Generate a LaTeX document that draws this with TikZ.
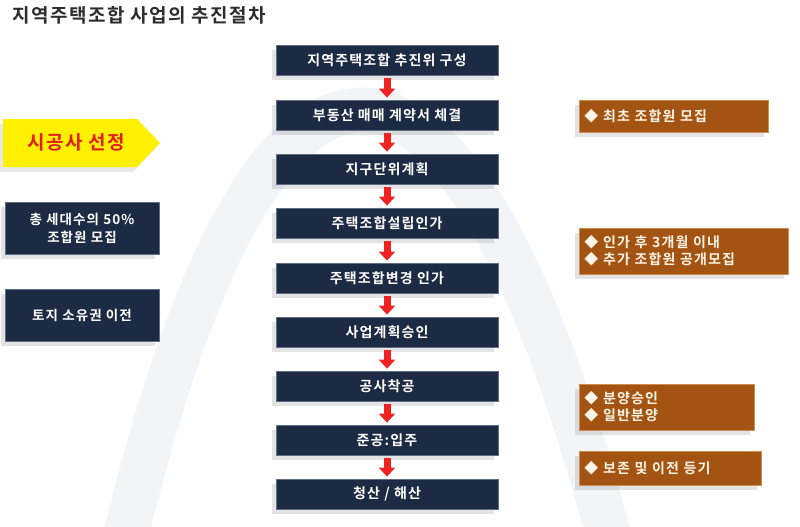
\documentclass[tikz,border=0pt]{standalone}
\usepackage{fontspec}
\setmainfont{Noto Sans CJK KR}[BoldFont={Noto Sans CJK KR Bold},LetterSpace=8]
\usetikzlibrary{shadows,arrows.meta}
\definecolor{navy}{RGB}{28,42,68}
\definecolor{navyedge}{RGB}{95,110,135}
\definecolor{brownb}{RGB}{164,84,18}
\definecolor{brownedge}{RGB}{205,140,80}
\definecolor{ylw}{RGB}{255,240,0}
\definecolor{redt}{RGB}{225,30,30}
\definecolor{arrred}{RGB}{240,35,35}
\definecolor{bgarc}{RGB}{205,214,228}
\definecolor{titlec}{RGB}{45,45,45}
\definecolor{creme}{RGB}{252,244,230}
\tikzset{
  boxshadow/.style={drop shadow={shadow xshift=-4pt, shadow yshift=-5pt, opacity=0.22, fill=gray}},
  stepbox/.style={fill=navy, draw=navyedge, line width=0.8pt, minimum width=222pt, minimum height=30pt,
    text=white, font=\bfseries\fontsize{14}{17}\selectfont, boxshadow},
  sidebox/.style={fill=navy, draw=navyedge, line width=0.8pt, minimum width=154pt, minimum height=52pt,
    text=white, align=center, font=\bfseries\fontsize{13.5}{18}\selectfont, boxshadow},
  notebox/.style={fill=brownb, draw=brownedge, line width=0.8pt, anchor=west, inner xsep=5pt,
    align=left, text=creme, font=\bfseries\fontsize{14}{17}\selectfont, boxshadow},
  flowarrow/.style={draw=arrred, line width=7pt, -{Triangle[width=16pt,length=9pt]},
    shorten <=3pt, shorten >=2pt}
}
\begin{document}
\begin{tikzpicture}[x=1pt,y=-1pt]
\useasboundingbox (0,0) rectangle (800,527);
\fill[white] (0,0) rectangle (800,527);
% faint background swoosh
\draw[line width=45pt, color=bgarc, opacity=0.25] (120,560) .. controls (260,-40) and (460,-40) .. (615,560);
% title
\node[anchor=west, text=titlec, font=\bfseries\fontsize{19}{21}\selectfont, inner sep=0pt] (title) at (12,15) {지역주택조합 사업의 추진절차};
% center flow
\node[stepbox] (c1) at (387,60) {지역주택조합 추진위 구성};
\node[stepbox] (c2) at (387,115) {부동산 매매 계약서 체결};
\node[stepbox] (c3) at (387,169) {지구단위계획};
\node[stepbox] (c4) at (387,223) {주택조합설립인가};
\node[stepbox] (c5) at (387,278) {주택조합변경 인가};
\node[stepbox] (c6) at (387,332) {사업계획승인};
\node[stepbox] (c7) at (387,386) {공사착공};
\node[stepbox] (c8) at (387,440) {준공:입주};
\node[stepbox] (c9) at (387,494) {청산 / 해산};
\foreach \a/\b in {c1/c2,c2/c3,c3/c4,c4/c5,c5/c6,c6/c7,c7/c8,c8/c9}
  \draw[flowarrow] (\a.south) -- (\b.north);
% left side
\fill[ylw, drop shadow={shadow xshift=-4pt, shadow yshift=-5pt, opacity=0.18, fill=gray}]
  (3,119) -- (137,119) -- (160,143) -- (137,167) -- (3,167) -- cycle;
\node[text=redt, font=\bfseries\fontsize{19}{20}\selectfont] (sel) at (76,142) {시공사 선정};
\node[sidebox] (l1) at (82,228) {총 세대수의 50\%\\조합원 모집};
\node[sidebox] (l2) at (82,315) {토지 소유권 이전};
% right notes
\node[notebox, text width=179pt, minimum height=32pt] (r1) at (579,116) {◆ 최초 조합원 모집};
\node[notebox, text width=199pt, minimum height=46pt] (r2) at (579,251) {◆ 인가 후 3개월 이내\\◆ 추가 조합원 공개모집};
\node[notebox, text width=165pt, minimum height=46pt] (r3) at (579,407) {◆ 분양승인\\◆ 일반분양};
\node[notebox, text width=172pt, minimum height=34pt] (r4) at (579,468) {◆ 보존 및 이전 등기};
\end{tikzpicture}
\end{document}
